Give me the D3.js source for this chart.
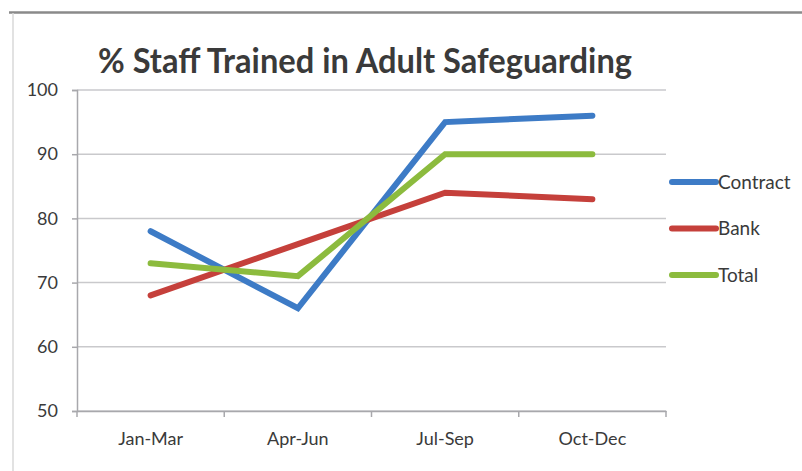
<!DOCTYPE html>
<html lang="en">
<head>
<meta charset="UTF-8">
<title>% Staff Trained in Adult Safeguarding</title>
<style>
    body { margin: 0; background: #fff; }
    svg { display: block; }
    text { font-family: Lato, "Open Sans", sans-serif; fill: #3a3a3a; }
    .grid line { stroke: #c9c9cc; stroke-width: 1.5px; }
    .series { fill: none; stroke-width: 6px; stroke-linejoin: miter; stroke-linecap: round; }
</style>
</head>
<body>
<div id="chart"></div>
<script src="https://d3js.org/d3.v7.min.js"></script>
<script>
const quarters = ["Jan-Mar", "Apr-Jun", "Jul-Sep", "Oct-Dec"];
const contract = [78, 66, 95, 96];
const bank = [68, 76, 84, 83];
const total = [73, 71, 90, 90];
const yTicks = [50, 60, 70, 80, 90, 100];
const seriesNames = ["Contract", "Bank", "Total"];
const seriesColors = ["#3d7bc6", "#c5403b", "#8cbb3e"];

const width = 802, height = 471;
const plot = { left: 77, right: 666, top: 90, bottom: 411 };

const svg = d3.select("#chart").append("svg")
    .attr("width", width)
    .attr("height", height);

// chart frame edges
svg.append("line").attr("x1", 9).attr("x2", width).attr("y1", 12.5).attr("y2", 12.5)
    .attr("stroke", "#8a8a8a").attr("stroke-width", 2.5);
svg.append("line").attr("x1", 13).attr("x2", 13).attr("y1", 13).attr("y2", height)
    .attr("stroke", "#d8d8d8").attr("stroke-width", 1.5);

const x = d3.scaleBand().domain(quarters).range([plot.left, plot.right]);
const y = d3.scaleLinear().domain([50, 100]).range([plot.bottom, plot.top]);

// horizontal gridlines
svg.append("g").attr("class", "grid")
    .selectAll("line").data(yTicks).join("line")
    .attr("x1", plot.left).attr("x2", plot.right)
    .attr("y1", d => y(d)).attr("y2", d => y(d));

// y axis
const yAxis = svg.append("g")
    .attr("transform", `translate(${plot.left},0)`)
    .call(d3.axisLeft(y).tickValues(yTicks).tickSize(5).tickPadding(14));
yAxis.select(".domain").attr("stroke", "#a8a8ac").attr("stroke-width", 1.5);
yAxis.selectAll(".tick line").attr("stroke", "#a8a8ac").attr("stroke-width", 1.5);
yAxis.selectAll(".tick text").style("font-size", "18px").attr("fill", "#3a3a3a");

// x axis
const xAxis = svg.append("g")
    .attr("transform", `translate(0,${plot.bottom})`)
    .call(d3.axisBottom(x).tickSize(0).tickPadding(21));
xAxis.select(".domain").attr("stroke", "#a8a8ac").attr("stroke-width", 1.5);
xAxis.selectAll(".tick text").style("font-size", "18px").attr("fill", "#3a3a3a");
// category boundary ticks
const edges = quarters.map(q => x(q)).concat([x(quarters[quarters.length - 1]) + x.bandwidth()]);
svg.append("g").selectAll("line").data(edges).join("line")
    .attr("x1", d => d).attr("x2", d => d)
    .attr("y1", plot.bottom).attr("y2", plot.bottom + 6)
    .attr("stroke", "#a8a8ac").attr("stroke-width", 1.5);

// lines
const line = d3.line()
    .x((d, i) => x(quarters[i]) + x.bandwidth() / 2)
    .y(d => y(d));
[contract, bank, total].forEach((vals, i) => {
    svg.append("path").attr("class", "series")
        .attr("d", line(vals))
        .attr("stroke", seriesColors[i]);
});

// legend
const legend = svg.append("g");
seriesNames.forEach((name, i) => {
    const ly = 182 + i * 46.5;
    legend.append("line")
        .attr("x1", 672).attr("x2", 716).attr("y1", ly).attr("y2", ly)
        .attr("stroke", seriesColors[i]).attr("stroke-width", 6).attr("stroke-linecap", "round");
    legend.append("text")
        .attr("x", 718).attr("y", ly).attr("dy", "0.35em")
        .style("font-size", "19px")
        .text(name);
});

// title
svg.append("text")
    .attr("x", 365).attr("y", 73)
    .attr("text-anchor", "middle")
    .attr("textLength", 534)
    .attr("lengthAdjust", "spacingAndGlyphs")
    .style("font-size", "34px").style("font-weight", "bold")
    .attr("fill", "#111")
    .text("% Staff Trained in Adult Safeguarding");
</script>
</body>
</html>
